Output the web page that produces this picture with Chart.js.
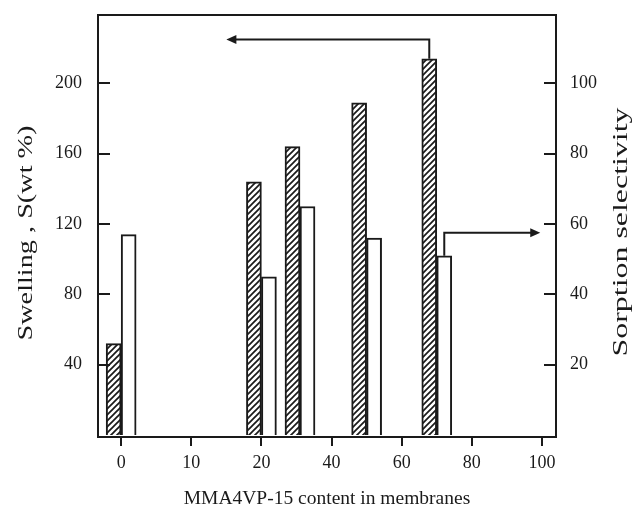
<!DOCTYPE html>
<html>
<head>
<meta charset="utf-8">
<script src="https://cdn.jsdelivr.net/npm/chart.js@4.4.1/dist/chart.umd.min.js"></script>
<style>
html,body{margin:0;padding:0;background:#fff;}
canvas{display:block;}
</style>
</head>
<body>
<canvas id="c" width="635" height="517"></canvas>
<script>
// ---- data ----
const xTickLabels = [0, 10, 20, 40, 60, 80, 100];          // x-axis tick labels (evenly spaced in the figure)
const contents    = [0, 20, 31, 50, 70];                    // MMA4VP-15 content of each bar group
const swelling    = [52, 144, 164, 189, 214];               // Swelling, S (wt %) – left axis, hatched bars
const selectivity = [57, 45, 65, 56, 51];                   // Sorption selectivity – right axis, open bars
const leftTicks   = [40, 80, 120, 160, 200];
const rightTicks  = [20, 40, 60, 80, 100];
// arrow annotations (data units)
const arrowLeft  = {fromIndex: 4, y: 225, toContent: 15};
const arrowRight = {fromIndex: 4, y: 57.5, toContent: 99.5};

// position of a content value on the (evenly spaced) tick axis
function toAxis(v) {
  for (let i = 0; i < xTickLabels.length - 1; i++) {
    const a = xTickLabels[i], b = xTickLabels[i + 1];
    if (v >= a && v <= b) return i + (v - a) / (b - a);
  }
  return xTickLabels.length - 1;
}

const FONT = '"Liberation Serif", "Times New Roman", serif';
const INK = '#1a1a1a';

// hatch pattern
function hatch() {
  const s = 6;
  const p = document.createElement('canvas');
  p.width = s; p.height = s;
  const g = p.getContext('2d');
  g.fillStyle = '#fff'; g.fillRect(0, 0, s, s);
  g.strokeStyle = INK; g.lineWidth = 1.7;
  g.beginPath();
  g.moveTo(-1, s + 1); g.lineTo(s + 1, -1);
  g.moveTo(-1, 1); g.lineTo(1, -1);
  g.moveTo(s - 1, s + 1); g.lineTo(s + 1, s - 1);
  g.stroke();
  return g.createPattern(p, 'repeat');
}

function stretchedVerticalText(ctx, text, cx, cy, length) {
  const w = ctx.measureText(text).width;
  ctx.save();
  ctx.translate(cx, cy);
  ctx.rotate(-Math.PI / 2);
  ctx.scale(length / w, 1);
  ctx.fillText(text, 0, 0);
  ctx.restore();
}

const framePlugin = {
  id: 'frame',
  afterDraw(chart) {
    const ctx = chart.ctx, a = chart.chartArea;
    const y = chart.scales.y, y2 = chart.scales.y2, x = chart.scales.x;
    ctx.save();
    ctx.strokeStyle = INK; ctx.lineWidth = 2;
    ctx.strokeRect(a.left, a.top, a.right - a.left, a.bottom - a.top);
    // inward ticks
    ctx.beginPath();
    leftTicks.forEach(v => { const py = Math.round(y.getPixelForValue(v)); ctx.moveTo(a.left, py); ctx.lineTo(a.left + 12, py); });
    rightTicks.forEach(v => { const py = Math.round(y2.getPixelForValue(v)); ctx.moveTo(a.right, py); ctx.lineTo(a.right - 12, py); });
    ctx.stroke();

    // arrows
    function head(tx, ty, dir) {
      ctx.beginPath();
      ctx.moveTo(tx, ty);
      ctx.lineTo(tx - dir * 10, ty - 4.5);
      ctx.lineTo(tx - dir * 10, ty + 4.5);
      ctx.closePath();
      ctx.fillStyle = INK; ctx.fill();
    }
    const b1 = chart.getDatasetMeta(0).data[arrowLeft.fromIndex];
    const ay1 = y.getPixelForValue(arrowLeft.y);
    const ax1 = x.getPixelForValue(toAxis(arrowLeft.toContent));
    ctx.beginPath();
    ctx.moveTo(b1.x, b1.y); ctx.lineTo(b1.x, ay1); ctx.lineTo(ax1 + 8, ay1);
    ctx.stroke();
    head(ax1, ay1, -1);

    const b2 = chart.getDatasetMeta(1).data[arrowRight.fromIndex];
    const ay2 = y2.getPixelForValue(arrowRight.y);
    const ax2 = x.getPixelForValue(toAxis(arrowRight.toContent));
    ctx.beginPath();
    ctx.moveTo(b2.x, b2.y); ctx.lineTo(b2.x, ay2); ctx.lineTo(ax2 - 8, ay2);
    ctx.stroke();
    head(ax2, ay2, 1);

    // axis titles
    ctx.fillStyle = INK;
    ctx.font = '19.5px ' + FONT;
    ctx.textAlign = 'center'; ctx.textBaseline = 'middle';
    ctx.fillText('MMA4VP-15 content in membranes', (a.left + a.right) / 2, 499);
    ctx.font = '20px ' + FONT;
    stretchedVerticalText(ctx, 'Swelling , S(wt %)', 27, 233, 215);
    stretchedVerticalText(ctx, 'Sorption selectivity', 622, 232, 249);
    ctx.restore();
  }
};

function fixVertical(width) {
  return function (s) { s.width = width; s.paddingTop = 0; s.paddingBottom = 0; };
}

new Chart(document.getElementById('c'), {
  type: 'bar',
  data: {
    datasets: [
      {
        label: 'Swelling',
        data: contents.map((c, i) => ({x: toAxis(c), y: swelling[i]})),
        yAxisID: 'y',
        backgroundColor: hatch(),
        borderColor: INK, borderWidth: 2,
        barThickness: 15
      },
      {
        label: 'Sorption selectivity',
        data: contents.map((c, i) => ({x: toAxis(c), y: selectivity[i]})),
        yAxisID: 'y2',
        backgroundColor: '#fff',
        borderColor: INK, borderWidth: 2,
        barThickness: 15
      }
    ]
  },
  options: {
    responsive: false,
    devicePixelRatio: 1,
    animation: false,
    layout: {padding: {top: 15, left: 0, right: 0, bottom: 0}},
    plugins: {legend: {display: false}, tooltip: {enabled: false}},
    scales: {
      x: {
        type: 'linear',
        offset: false,
        min: -0.33, max: 6.2,
        afterBuildTicks(s) { s.ticks = xTickLabels.map((_, i) => ({value: i})); },
        afterFit(s) { s.height = 80; s.paddingLeft = 0; s.paddingRight = 0; },
        ticks: {
          callback: (v) => xTickLabels[v],
          color: INK, font: {family: FONT, size: 18}, padding: 6, maxRotation: 0
        },
        grid: {display: true, offset: false, drawOnChartArea: false, drawTicks: true, tickLength: 9, color: INK, lineWidth: 2},
        border: {display: false}
      },
      y: {
        position: 'left',
        min: -1.1, max: 238.9,
        afterBuildTicks(s) { s.ticks = leftTicks.map(v => ({value: v})); },
        afterFit: fixVertical(98),
        ticks: {color: INK, font: {family: FONT, size: 18}, padding: 16},
        grid: {display: false, drawTicks: false},
        border: {display: false}
      },
      y2: {
        position: 'right',
        min: -0.55, max: 119.45,
        afterBuildTicks(s) { s.ticks = rightTicks.map(v => ({value: v})); },
        afterFit: fixVertical(79),
        ticks: {color: INK, font: {family: FONT, size: 18}, padding: 14},
        grid: {display: false, drawTicks: false},
        border: {display: false}
      }
    }
  },
  plugins: [framePlugin]
});
</script>
</body>
</html>
